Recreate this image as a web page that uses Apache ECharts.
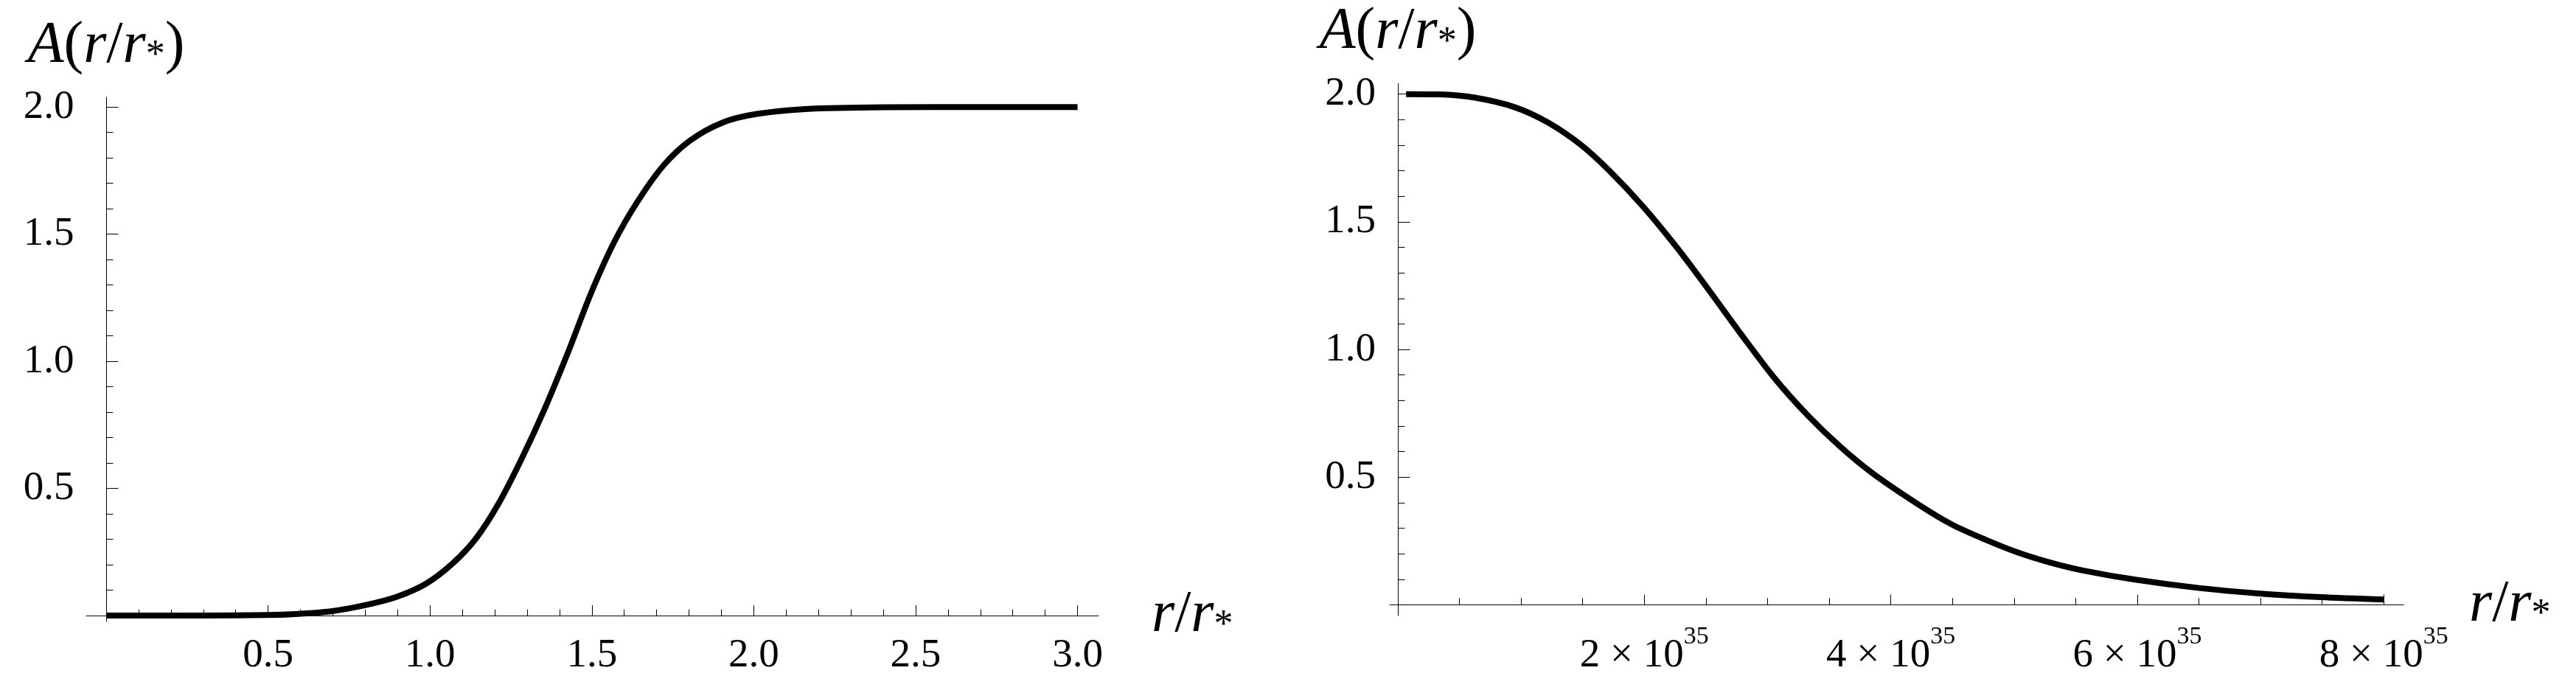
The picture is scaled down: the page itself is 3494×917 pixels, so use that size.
<!DOCTYPE html>
<html>
<head>
<meta charset="utf-8">
<script src="https://cdn.jsdelivr.net/npm/echarts@6/dist/echarts.min.js"></script>
<style>
html,body{margin:0;padding:0;background:#fff;}
#c{width:3494px;height:917px;}
</style>
</head>
<body>
<div id="c"></div>
<script>
// ---------- data ----------
// left panel: A(r/r*) versus r/r*
const leftR = [0, 0.3, 0.5, 0.583, 0.694, 0.80, 0.898, 0.99, 1.07, 1.142, 1.213, 1.284, 1.355, 1.427, 1.498, 1.569, 1.640, 1.721, 1.803, 1.904, 2.006, 2.158, 2.4, 2.7, 3.0];
const leftA = [0, 0, 0.002, 0.006, 0.017, 0.041, 0.074, 0.127, 0.205, 0.303, 0.443, 0.619, 0.815, 1.037, 1.270, 1.469, 1.626, 1.770, 1.868, 1.939, 1.972, 1.992, 1.999, 2.0, 2.0];
// right panel: r/r* in units of 10^35
const rightR = [0.067, 0.334, 0.627, 0.947, 1.214, 1.481, 1.721, 1.988, 2.255, 2.522, 2.788, 3.056, 3.322, 3.589, 3.856, 4.231, 4.499, 4.765, 5.032, 5.299, 5.566, 5.993, 6.499, 6.98, 7.487, 8.0];
const rightA = [2.0, 1.999, 1.986, 1.949, 1.890, 1.803, 1.698, 1.561, 1.405, 1.234, 1.058, 0.888, 0.744, 0.620, 0.514, 0.391, 0.314, 0.256, 0.205, 0.165, 0.134, 0.098, 0.066, 0.045, 0.030, 0.021];
const rightExponent = 35;

// ticks
const yMajor = [0.5, 1.0, 1.5, 2.0];
const yMinor = [0.1, 0.2, 0.3, 0.4, 0.6, 0.7, 0.8, 0.9, 1.1, 1.2, 1.3, 1.4, 1.6, 1.7, 1.8, 1.9];
const leftXMajor = [0.5, 1.0, 1.5, 2.0, 2.5, 3.0];
const leftXMinor = [0.1, 0.2, 0.3, 0.4, 0.6, 0.7, 0.8, 0.9, 1.1, 1.2, 1.3, 1.4, 1.6, 1.7, 1.8, 1.9, 2.1, 2.2, 2.3, 2.4, 2.6, 2.7, 2.8, 2.9];
const rightXMajor = [2, 4, 6, 8];
const rightXMinor = [0.5, 1, 1.5, 2.5, 3, 3.5, 4.5, 5, 5.5, 6.5, 7, 7.5];

// ---------- styling ----------
const FONT = '"Liberation Serif", "Times New Roman", Times, serif';
const TICK_FS = 55;
const NAME_FS = 80;
const nameRich = {
  it: {fontFamily: FONT, fontStyle: 'italic', fontSize: NAME_FS, lineHeight: 80, color: '#000', verticalAlign: 'bottom'},
  n:  {fontFamily: FONT, fontSize: NAME_FS, lineHeight: 80, color: '#000', verticalAlign: 'bottom'},
  as: {fontFamily: FONT, fontSize: 52, lineHeight: 6, color: '#000', verticalAlign: 'bottom'}
};
const yName = '{it|A}{n|(}{it|r}{n|/}{it|r}{as|*}{n|)}';
const xName = '{it|r}{n|/}{it|r}{as|*}';
const black = {color: '#000', width: 1};

function mainX(grid, min, max, yIdx, majors, margin, formatter, rich, gap) {
  return {
    gridIndex: grid, type: 'value', min: min, max: max, position: 'bottom',
    axisLine: {show: true, onZero: true, onZeroAxisIndex: yIdx, lineStyle: black},
    axisTick: {show: true, inside: true, length: 14, customValues: majors, lineStyle: black},
    axisLabel: {show: true, customValues: majors, margin: margin, formatter: formatter,
      fontFamily: FONT, fontSize: TICK_FS, color: '#000', rich: rich},
    splitLine: {show: false},
    name: xName, nameLocation: 'end', nameGap: gap,
    nameTextStyle: {rich: nameRich, align: 'left', verticalAlign: 'middle'}
  };
}
function minorX(grid, min, max, yIdx, minors, len) {
  return {
    gridIndex: grid, type: 'value', min: min, max: max, position: 'bottom',
    axisLine: {show: true, onZero: true, onZeroAxisIndex: yIdx, lineStyle: {color: 'rgba(0,0,0,0)', width: 1}},
    axisTick: {show: true, inside: true, length: len, customValues: minors, lineStyle: black},
    axisLabel: {show: false}, splitLine: {show: false}
  };
}
function mainY(grid, min, max, xIdx, margin) {
  return {
    gridIndex: grid, type: 'value', min: min, max: max, position: 'left',
    axisLine: {show: true, onZero: true, onZeroAxisIndex: xIdx, lineStyle: black},
    axisTick: {show: true, inside: true, length: 16.5, customValues: yMajor, lineStyle: black},
    axisLabel: {show: true, customValues: yMajor, margin: margin, formatter: v => v.toFixed(1),
      fontFamily: FONT, fontSize: TICK_FS, color: '#000'},
    splitLine: {show: false},
    name: yName, nameLocation: 'end', nameGap: 29.5,
    nameTextStyle: {rich: nameRich, align: 'center', verticalAlign: 'bottom'}
  };
}
function minorY(grid, min, max, xIdx) {
  return {
    gridIndex: grid, type: 'value', min: min, max: max, position: 'left',
    axisLine: {show: true, onZero: true, onZeroAxisIndex: xIdx, lineStyle: {color: 'rgba(0,0,0,0)', width: 1}},
    axisTick: {show: true, inside: true, length: 9.5, customValues: yMinor, lineStyle: black},
    axisLabel: {show: false}, splitLine: {show: false}
  };
}

const expRich = {
  b: {fontFamily: FONT, fontSize: TICK_FS, lineHeight: 70, color: '#000', verticalAlign: 'bottom'},
  s: {fontFamily: FONT, fontSize: 34, lineHeight: 34, color: '#000', verticalAlign: 'top'}
};

const L = {xmin: -0.0615, xmax: 3.0647, ymin: -0.0231, ymax: 2.0381};
const R = {xmin: -0.0658, xmax: 8.160, ymin: -0.0419, ymax: 2.0413};

const lineStyle = {color: '#000', width: 8, cap: 'butt', join: 'round'};

const option = {
  backgroundColor: '#fff',
  animation: false,
  grid: [
    {left: 117, top: 132, width: 1373, height: 714, containLabel: false},
    {left: 1885, top: 113.4, width: 1375, height: 721.6, containLabel: false}
  ],
  xAxis: [
    mainX(0, L.xmin, L.xmax, 0, leftXMajor, 19, v => v.toFixed(1), undefined, 72),
    minorX(0, L.xmin, L.xmax, 0, leftXMinor, 8.3),
    mainX(1, R.xmin, R.xmax, 2, rightXMajor, 12, v => '{b|' + v + ' \u00d7 10}{s|' + rightExponent + '}', expRich, 89),
    minorX(1, R.xmin, R.xmax, 2, rightXMinor, 9.3)
  ],
  yAxis: [
    mainY(0, L.ymin, L.ymax, 0, 16.6),
    minorY(0, L.ymin, L.ymax, 0),
    mainY(1, R.ymin, R.ymax, 2, 19),
    minorY(1, R.ymin, R.ymax, 2)
  ],
  series: [
    {type: 'line', xAxisIndex: 0, yAxisIndex: 0, data: leftR.map((r, i) => [r, leftA[i]]),
      showSymbol: false, symbol: 'none', smooth: 0.3, lineStyle: lineStyle},
    {type: 'line', xAxisIndex: 2, yAxisIndex: 2, data: rightR.map((r, i) => [r, rightA[i]]),
      showSymbol: false, symbol: 'none', smooth: 0.3, lineStyle: lineStyle}
  ]
};

const chart = echarts.init(document.getElementById('c'), null, {renderer: 'canvas', width: 3494, height: 917});
chart.setOption(option);
</script>
</body>
</html>
